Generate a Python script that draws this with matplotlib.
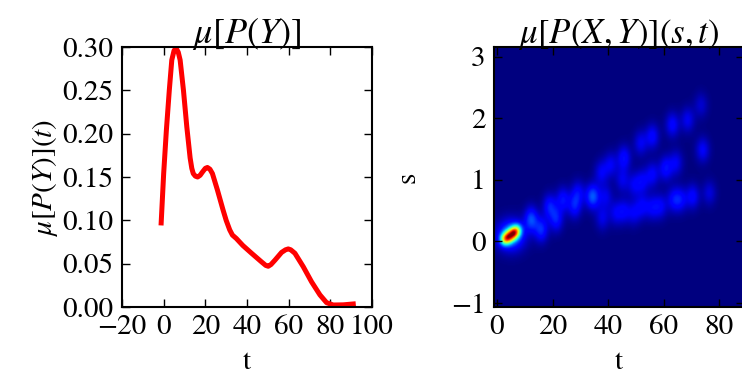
import matplotlib
matplotlib.use("Agg")
import matplotlib.pyplot as plt
import numpy as np

plt.rcParams['font.family'] = ['STIXGeneral', 'DejaVu Serif']
plt.rcParams['mathtext.fontset'] = 'stix'

# left panel: mu[P(Y)](t)
t_vals = [-1.2, 0.0, 1.3, 2.7, 3.9, 5.0, 6.0, 7.0, 7.9, 9.5, 11.1, 12.7, 13.5,
          14.2, 15.2, 16.3, 17.5, 18.7, 20.0, 21.0, 22.2, 23.4, 25.8, 28.5, 30.0,
          31.7, 33.0, 34.9, 38.0, 42.2, 47.0, 49.0, 50.2, 51.5, 53.4, 56.6, 58.5,
          59.8, 61.0, 63.0, 67.0, 71.0, 75.0, 78.2, 81.4, 86.2, 91.0]
mu_y = [0.097, 0.154, 0.204, 0.250, 0.285, 0.296, 0.2985, 0.294, 0.285, 0.250,
        0.208, 0.172, 0.160, 0.154, 0.151, 0.150, 0.152, 0.156, 0.160, 0.161,
        0.159, 0.154, 0.135, 0.112, 0.100, 0.089, 0.083, 0.079, 0.071, 0.062,
        0.052, 0.048, 0.047, 0.049, 0.054, 0.063, 0.066, 0.067, 0.066, 0.062,
        0.0465, 0.029, 0.014, 0.005, 0.0023, 0.0025, 0.0035]

# right panel: density blobs (t, s, weight) seen in the heat map
hot_t = [2.5, 4.0, 5.8, 7.2, 5.0]
hot_s = [0.03, 0.07, 0.13, 0.18, 0.10]
hot_w = [0.35, 0.50, 0.55, 0.30, 0.26]
hot_width_t = [1.2, 1.2, 1.2, 1.2, 3.4]
hot_width_s = [0.07, 0.07, 0.07, 0.07, 0.17]

blob_t = [12.2, 15.8, 18.8, 21.2, 23.6, 27.8, 29.0, 33.8, 37.4,
          40.8, 45.6, 51.6, 55.8, 63.0, 68.5, 73.3,
          34.8, 39.0, 45.0, 49.2, 52.2, 55.8, 60.6, 64.3, 73.9,
          37.8, 42.6, 45.6, 49.2, 52.2, 55.8, 58.8, 63.4, 66.0, 70.3, 76.3]
blob_s = [0.36, 0.19, 0.57, 0.36, 0.68, 0.57, 0.79, 0.73, 1.12,
          1.25, 1.36, 1.60, 1.71, 1.90, 1.98, 2.22,
          0.73, 0.73, 1.00, 0.92, 0.98, 1.09, 1.19, 1.28, 1.49,
          0.38, 0.46, 0.49, 0.46, 0.57, 0.55, 0.57, 0.68, 0.68, 0.73, 0.79]
blob_w = [0.19, 0.16, 0.14, 0.14, 0.13, 0.13, 0.11, 0.11, 0.10,
          0.10, 0.13, 0.10, 0.12, 0.12, 0.10, 0.07,
          0.11, 0.09, 0.09, 0.09, 0.10, 0.11, 0.13, 0.10, 0.11,
          0.09, 0.09, 0.10, 0.09, 0.10, 0.10, 0.10, 0.11, 0.11, 0.12, 0.08]

t_extent = (-1.1, 89.0)
s_extent = (-1.065, 3.16)

tt, ss = np.meshgrid(np.linspace(*t_extent, 400), np.linspace(*s_extent, 300))
density = np.zeros_like(tt)
for bt, bs, bw, wt, ws in zip(hot_t, hot_s, hot_w, hot_width_t, hot_width_s):
    density += bw * np.exp(-0.5 * (((tt - bt) / wt) ** 2 + ((ss - bs) / ws) ** 2))
for bt, bs, bw in zip(blob_t, blob_s, blob_w):
    density += bw * np.exp(-0.5 * (((tt - bt) / 1.7) ** 2 + ((ss - bs) / 0.14) ** 2))

fig = plt.figure(figsize=(7.42, 3.87), dpi=100)

ax1 = fig.add_axes([122 / 742, 80 / 387, 250 / 742, 260 / 387])
ax1.plot(t_vals, mu_y, color='red', lw=3.6, solid_joinstyle='round')
ax1.set_xlim(-20, 100)
ax1.set_ylim(0, 0.30)
ax1.set_xticks([-20, 0, 20, 40, 60, 80, 100])
ax1.set_yticks([0, 0.05, 0.10, 0.15, 0.20, 0.25, 0.30])
ax1.set_yticklabels(['0.00', '0.05', '0.10', '0.15', '0.20', '0.25', '0.30'])
ax1.set_title(r'$\mu[P(Y)]$', fontsize=26, pad=3)
ax1.set_xlabel('t', fontsize=21, labelpad=7)
ax1.set_ylabel(r'$\mu[P(Y)](t)$', fontsize=21, labelpad=2)

ax2 = fig.add_axes([494 / 742, 80 / 387, 250 / 742, 260 / 387])
ax2.imshow(density, origin='lower', cmap='jet', vmin=0, vmax=1.0,
           extent=[*t_extent, *s_extent], aspect='auto', interpolation='bilinear')
ax2.set_xlim(*t_extent)
ax2.set_ylim(*s_extent)
ax2.set_xticks([0, 20, 40, 60, 80])
ax2.set_yticks([-1, 0, 1, 2, 3])
ax2.set_yticklabels(['\u22121', '0', '1', '2', '3'])
ax2.set_title(r'$\mu[P(X,Y)](s,t)$', fontsize=25, pad=3)
ax2.set_xlabel('t', fontsize=21, labelpad=7)
ax2.set_ylabel('s', fontsize=21, labelpad=22)

for ax in (ax1, ax2):
    ax.tick_params(direction='in', length=6, width=1, top=True, right=True,
                   labelsize=21, pad=6)
    for sp in ax.spines.values():
        sp.set_linewidth(1.5)

fig.savefig('out.png', dpi=100)
